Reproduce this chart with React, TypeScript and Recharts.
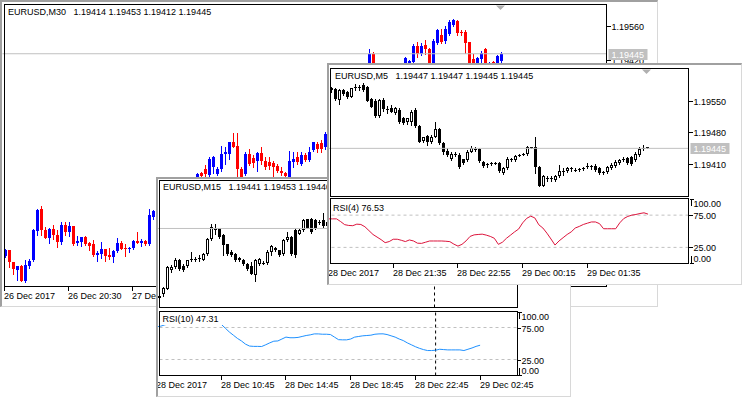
import React from 'react';
import { ComposedChart, Bar, Line, XAxis, YAxis, ReferenceLine, ReferenceDot } from 'recharts';

const FONT = "'Liberation Sans', Arial, sans-serif";
const BID = 1.19445;

// EURUSD M30, bars from 26 Dec 12:30 to 29 Dec 02:30
const m30Open = [
  1.18618, 1.18643, 1.18595, 1.18562, 1.18579, 1.18517, 1.18577, 1.18602, 1.1872, 1.1881,
  1.18727, 1.18693, 1.18731, 1.18707, 1.18677, 1.18745, 1.18717, 1.18741, 1.18673, 1.18677,
  1.18696, 1.18673, 1.1867, 1.18622, 1.18626, 1.18649, 1.18622, 1.18615, 1.18639, 1.18671,
  1.18652, 1.18649, 1.18652, 1.18681, 1.18673, 1.18681, 1.18667, 1.18779, 1.18803, 1.18795,
  1.1882, 1.1883, 1.1885, 1.18835, 1.18875, 1.1887, 1.18905, 1.189, 1.1893, 1.18958,
  1.18975, 1.18952, 1.18982, 1.18955, 1.18975, 1.19036, 1.19036, 1.19084, 1.1907, 1.18975,
  1.18955, 1.19036, 1.19019, 1.19009, 1.1904, 1.19009, 1.19002, 1.18999, 1.18985, 1.18968,
  1.18958, 1.18941, 1.19002, 1.19023, 1.18996, 1.1903, 1.19013, 1.19054, 1.19077, 1.1908,
  1.19064, 1.19118, 1.1915, 1.19175, 1.1919, 1.19215, 1.19317, 1.1931, 1.1934, 1.19345,
  1.1936, 1.19405, 1.19446, 1.1936, 1.19345, 1.1933, 1.1934, 1.1937, 1.1936, 1.1939,
  1.1938, 1.19395, 1.1941, 1.19475, 1.19446, 1.19479, 1.19466, 1.19405, 1.19487, 1.1952,
  1.19495, 1.19524, 1.19564, 1.19577, 1.19532, 1.19532, 1.19491, 1.19422, 1.19405, 1.19422,
  1.19466, 1.194, 1.19411, 1.19409, 1.19414,
];
const m30High = [
  1.18649, 1.18645, 1.18597, 1.1858, 1.18582, 1.18602, 1.18609, 1.18731, 1.1881, 1.18822,
  1.18738, 1.18735, 1.18745, 1.18724, 1.18758, 1.18758, 1.18758, 1.18742, 1.18701, 1.18697,
  1.18701, 1.18677, 1.18683, 1.18639, 1.18677, 1.1865, 1.18652, 1.18643, 1.18693, 1.18679,
  1.1867, 1.18656, 1.18686, 1.18717, 1.18688, 1.18683, 1.1881, 1.18806, 1.18825, 1.1883,
  1.18845, 1.1886, 1.1887, 1.1888, 1.189, 1.1891, 1.18925, 1.18935, 1.18958, 1.18962,
  1.18989, 1.19023, 1.19026, 1.18982, 1.1907, 1.19064, 1.19086, 1.19122, 1.19121, 1.18982,
  1.19043, 1.19057, 1.1903, 1.19043, 1.19064, 1.19023, 1.19023, 1.19009, 1.18996, 1.18982,
  1.18962, 1.1905, 1.19043, 1.19043, 1.19043, 1.1904, 1.19064, 1.19086, 1.19084, 1.19091,
  1.19125, 1.1916, 1.1919, 1.192, 1.19228, 1.1932, 1.19348, 1.19345, 1.19367, 1.19363,
  1.19409, 1.19466, 1.19452, 1.1938, 1.1935, 1.19345, 1.19375, 1.1939, 1.19395, 1.194,
  1.1943, 1.19418, 1.19483, 1.19491, 1.19487, 1.19503, 1.1947, 1.19507, 1.19548, 1.19548,
  1.1956, 1.19581, 1.19585, 1.19581, 1.1954, 1.1954, 1.19493, 1.19446, 1.1943, 1.19458,
  1.19468, 1.19411, 1.19414, 1.19438, 1.19453,
];
const m30Low = [
  1.18615, 1.18575, 1.18545, 1.1852, 1.18517, 1.18515, 1.18571, 1.186, 1.18707, 1.18707,
  1.18692, 1.18674, 1.1869, 1.18656, 1.1867, 1.18704, 1.18701, 1.18663, 1.18663, 1.1866,
  1.18666, 1.18645, 1.1862, 1.18599, 1.18611, 1.18599, 1.18609, 1.18595, 1.18636, 1.18647,
  1.18619, 1.18636, 1.18649, 1.18673, 1.1866, 1.18663, 1.18663, 1.18772, 1.18785, 1.1878,
  1.188, 1.18815, 1.1882, 1.1883, 1.1886, 1.18865, 1.1889, 1.18895, 1.1892, 1.18935,
  1.18941, 1.18945, 1.18958, 1.1895, 1.18968, 1.18996, 1.19016, 1.19064, 1.18948, 1.18938,
  1.1895, 1.18989, 1.18982, 1.18968, 1.18996, 1.18975, 1.18975, 1.18948, 1.18962, 1.1895,
  1.1893, 1.18935, 1.18982, 1.18996, 1.18989, 1.19009, 1.19009, 1.1905, 1.19043, 1.19043,
  1.19057, 1.191, 1.1913, 1.1915, 1.1918, 1.19205, 1.19303, 1.19305, 1.19336, 1.19337,
  1.19355, 1.194, 1.1935, 1.19338, 1.1932, 1.19295, 1.1933, 1.1935, 1.19355, 1.19355,
  1.1937, 1.1937, 1.194, 1.1943, 1.19438, 1.19446, 1.19395, 1.19398, 1.19485, 1.19487,
  1.1949, 1.1952, 1.1956, 1.1952, 1.1952, 1.1945, 1.194, 1.19403, 1.194, 1.19405,
  1.19395, 1.1938, 1.1938, 1.194, 1.19412,
];
const m30Close = [
  1.18643, 1.18595, 1.18565, 1.18579, 1.18517, 1.18584, 1.186, 1.18724, 1.18806, 1.18727,
  1.18693, 1.18731, 1.18707, 1.18677, 1.18745, 1.18717, 1.18742, 1.1867, 1.18681, 1.18696,
  1.18668, 1.1866, 1.18622, 1.18632, 1.18647, 1.18619, 1.18614, 1.1864, 1.18671, 1.18649,
  1.18649, 1.18653, 1.18681, 1.18673, 1.18681, 1.18667, 1.18785, 1.18803, 1.18795, 1.1882,
  1.1883, 1.1885, 1.18835, 1.18875, 1.1887, 1.18905, 1.189, 1.1893, 1.18955, 1.18947,
  1.18955, 1.19016, 1.19023, 1.18975, 1.19036, 1.19043, 1.19084, 1.19066, 1.18975, 1.18941,
  1.19036, 1.18996, 1.18999, 1.19039, 1.19006, 1.18982, 1.18986, 1.18982, 1.18968, 1.18959,
  1.18944, 1.19009, 1.19016, 1.19002, 1.1903, 1.19012, 1.19043, 1.19084, 1.19057, 1.19057,
  1.19118, 1.1915, 1.19175, 1.1919, 1.19215, 1.19317, 1.1931, 1.1934, 1.19345, 1.1936,
  1.19405, 1.19446, 1.1936, 1.19345, 1.1933, 1.1934, 1.1937, 1.1936, 1.1939, 1.19365,
  1.19426, 1.19415, 1.19475, 1.19446, 1.19475, 1.19466, 1.19405, 1.19495, 1.1954, 1.19491,
  1.19548, 1.19573, 1.19581, 1.19528, 1.19528, 1.19487, 1.19405, 1.19409, 1.19426, 1.1945,
  1.19405, 1.19409, 1.19398, 1.19434, 1.19445,
];
const m30TimeLabels = [
  '26 Dec 2017', '26 Dec 20:30', '27 Dec 04:30', '27 Dec 12:30',
  '27 Dec 20:30', '28 Dec 04:30', '28 Dec 12:30', '28 Dec 20:30',
];
// only the upper price labels are not covered by the other windows
const m30PriceTicks = [1.1942, 1.1956];

// EURUSD M15, bars from 28 Dec 06:45 to 29 Dec 02:45
const m15Open = [
  1.19215, 1.19229, 1.19245, 1.19306, 1.19317, 1.19341, 1.19322, 1.19322, 1.19339, 1.19343,
  1.19347, 1.19341, 1.19361, 1.19411, 1.19445, 1.19445, 1.19422, 1.19392, 1.19367, 1.19361,
  1.19339, 1.19341, 1.19328, 1.19322, 1.19292, 1.19328, 1.19331, 1.1933, 1.19367, 1.19381,
  1.19372, 1.19361, 1.19406, 1.19417, 1.19439, 1.19428, 1.19439, 1.19475, 1.19478, 1.19472,
  1.19466, 1.19472, 1.19452, 1.19466, 1.19425, 1.19405, 1.19455, 1.19495, 1.1952, 1.1954,
  1.19505, 1.19491, 1.1952, 1.19548, 1.19577, 1.19574, 1.19579, 1.19581, 1.19516, 1.19533,
  1.19511, 1.1953, 1.19472, 1.19488, 1.19422, 1.19421, 1.19443, 1.19409, 1.19412, 1.19421,
  1.19432, 1.19447, 1.19378, 1.19383, 1.19401, 1.194, 1.19406, 1.19392, 1.19412, 1.19425,
  1.19441,
];
const m15High = [
  1.19228, 1.1925, 1.1932, 1.19325, 1.19348, 1.19345, 1.19326, 1.19341, 1.19367, 1.1935,
  1.19356, 1.19363, 1.19414, 1.19461, 1.19461, 1.19448, 1.19425, 1.19395, 1.19372, 1.19364,
  1.1935, 1.19345, 1.19331, 1.19333, 1.19345, 1.19348, 1.19337, 1.19375, 1.19389, 1.19384,
  1.19375, 1.19411, 1.19433, 1.1942, 1.19445, 1.19443, 1.19475, 1.19478, 1.19481, 1.19475,
  1.19472, 1.19497, 1.1947, 1.1947, 1.1943, 1.1946, 1.19507, 1.1953, 1.19548, 1.19548,
  1.19515, 1.19525, 1.1956, 1.19585, 1.19581, 1.19579, 1.19588, 1.19583, 1.19555, 1.19541,
  1.1953, 1.19535, 1.19504, 1.19489, 1.19438, 1.1945, 1.19447, 1.19415, 1.19427, 1.19433,
  1.1945, 1.19469, 1.19386, 1.19408, 1.19403, 1.19412, 1.1941, 1.1942, 1.19427, 1.19447,
  1.19453,
];
const m15Low = [
  1.192, 1.19222, 1.19243, 1.193, 1.19315, 1.19308, 1.19303, 1.19318, 1.19336, 1.19338,
  1.19337, 1.19339, 1.19358, 1.19408, 1.19428, 1.19414, 1.19356, 1.19358, 1.19353, 1.19338,
  1.19336, 1.19323, 1.19308, 1.19293, 1.19272, 1.19325, 1.19326, 1.19328, 1.19356, 1.1937,
  1.19354, 1.19356, 1.19404, 1.19358, 1.1935, 1.19425, 1.19436, 1.19445, 1.1943, 1.19442,
  1.19461, 1.1945, 1.1944, 1.1942, 1.19395, 1.19398, 1.1945, 1.19485, 1.1951, 1.195,
  1.19487, 1.1949, 1.19515, 1.1954, 1.19542, 1.19555, 1.19572, 1.19515, 1.19515, 1.195,
  1.19497, 1.19458, 1.19453, 1.19429, 1.19402, 1.19411, 1.19403, 1.19405, 1.19389, 1.19417,
  1.19431, 1.19361, 1.19374, 1.19381, 1.19394, 1.19397, 1.19389, 1.1939, 1.1941, 1.19409,
  1.1944,
];
const m15Close = [
  1.19222, 1.19246, 1.19317, 1.19317, 1.19341, 1.19311, 1.19306, 1.19339, 1.19345, 1.19345,
  1.19348, 1.19361, 1.19411, 1.1945, 1.19439, 1.19417, 1.19389, 1.19361, 1.19356, 1.19341,
  1.19348, 1.19326, 1.19311, 1.19295, 1.19339, 1.19345, 1.1933, 1.19367, 1.19386, 1.19372,
  1.19356, 1.19406, 1.19417, 1.19361, 1.19356, 1.19441, 1.19472, 1.19448, 1.19433, 1.19445,
  1.19467, 1.19452, 1.19466, 1.19425, 1.19405, 1.19455, 1.19495, 1.1952, 1.1954, 1.19505,
  1.19491, 1.1952, 1.19548, 1.19578, 1.19574, 1.19577, 1.19574, 1.19516, 1.19532, 1.19503,
  1.19525, 1.19469, 1.19488, 1.19431, 1.19403, 1.19445, 1.19406, 1.19411, 1.19421, 1.19431,
  1.19447, 1.19383, 1.19383, 1.19402, 1.194, 1.19405, 1.19392, 1.19416, 1.19412, 1.19443,
  1.19445,
];
const m15Rsi = [
  76, 77, 79, 81, 84, 81, 80, 82, 83, 83,
  83, 84, 88, 90, 88, 84, 80, 74, 68, 63,
  58, 54, 49, 46, 45.5, 45.5, 45.3, 48, 51, 53.6,
  54, 57, 60, 59, 59, 59.5, 61, 62.5, 63.5, 65,
  65, 64.5, 64.5, 64, 60, 56, 55.7, 55.7, 57, 60,
  61, 62, 62.5, 63, 64.5, 65, 65.1, 64, 62, 60,
  57, 54.6, 51, 48, 45, 42.5, 40.5, 39, 39, 39.5,
  41, 40.5, 40, 40, 40, 40, 39, 41, 43, 45.5,
  47.31,
];
const m15TimeLabels = ['28 Dec 2017', '28 Dec 10:45', '28 Dec 14:45', '28 Dec 18:45', '28 Dec 22:45', '29 Dec 02:45'];
const m15PriceTicks = [1.1933, 1.1954];
const m15DaySeparator = 69; // 29 Dec 00:00

// EURUSD M5, bars from 28 Dec 20:15 to 29 Dec 02:50
const m5Open = [
  1.19577, 1.19575, 1.19552, 1.19574, 1.1957, 1.19559, 1.19579, 1.1958, 1.19584, 1.19581,
  1.19554, 1.1955, 1.19516, 1.19552, 1.19531, 1.19533, 1.19524, 1.1953, 1.19511, 1.19502,
  1.19502, 1.1953, 1.19495, 1.19462, 1.19472, 1.19458, 1.19471, 1.19488, 1.19456, 1.1944,
  1.19422, 1.19432, 1.19431, 1.19421, 1.1942, 1.19438, 1.19443, 1.19443, 1.19416, 1.19409,
  1.19411, 1.19412, 1.19412, 1.1939, 1.19401, 1.19421, 1.1942, 1.1943, 1.19432, 1.19432,
  1.19446, 1.19447, 1.19405, 1.19362, 1.19378, 1.1938, 1.19375, 1.19383, 1.19393, 1.19394,
  1.19401, 1.19398, 1.19398, 1.194, 1.19405, 1.19406, 1.19406, 1.19401, 1.19391, 1.19392,
  1.19401, 1.19406, 1.19412, 1.1942, 1.19423, 1.19425, 1.1942, 1.19431, 1.19445, 1.19447,
];
const m5High = [
  1.19581, 1.19577, 1.19575, 1.19575, 1.19572, 1.19579, 1.19587, 1.19585, 1.19588, 1.19583,
  1.19557, 1.19553, 1.19553, 1.19555, 1.19539, 1.19541, 1.19537, 1.19533, 1.19515, 1.19513,
  1.1953, 1.19535, 1.19497, 1.19471, 1.19475, 1.19474, 1.19504, 1.19489, 1.19458, 1.19445,
  1.19438, 1.19436, 1.19434, 1.19422, 1.19442, 1.1945, 1.19447, 1.19445, 1.19418, 1.19412,
  1.19415, 1.19415, 1.19414, 1.19403, 1.19427, 1.19423, 1.19431, 1.19433, 1.19435, 1.1945,
  1.19449, 1.19469, 1.19406, 1.19386, 1.19383, 1.19384, 1.19386, 1.19408, 1.19401, 1.19405,
  1.19403, 1.19401, 1.19402, 1.19405, 1.19412, 1.19409, 1.1941, 1.19403, 1.19394, 1.19406,
  1.19412, 1.1942, 1.19422, 1.19425, 1.19427, 1.19428, 1.19438, 1.19447, 1.19453, 1.19447,
];
const m5Low = [
  1.1957, 1.19552, 1.19542, 1.19563, 1.19555, 1.19558, 1.19574, 1.19574, 1.19572, 1.19549,
  1.19536, 1.19515, 1.19515, 1.19528, 1.19524, 1.19525, 1.19521, 1.195, 1.19498, 1.19499,
  1.19497, 1.19493, 1.19458, 1.1946, 1.19453, 1.19456, 1.19469, 1.19455, 1.19433, 1.19429,
  1.1942, 1.19429, 1.19402, 1.19411, 1.19417, 1.19436, 1.1944, 1.19414, 1.19403, 1.19405,
  1.19408, 1.1941, 1.19392, 1.19389, 1.194, 1.19417, 1.19418, 1.19428, 1.19431, 1.19431,
  1.19445, 1.1939, 1.19361, 1.19361, 1.19374, 1.19374, 1.19374, 1.19381, 1.19386, 1.19392,
  1.19396, 1.19394, 1.19396, 1.19397, 1.19401, 1.194, 1.19396, 1.19389, 1.19389, 1.1939,
  1.194, 1.19405, 1.19411, 1.19417, 1.1941, 1.19409, 1.19418, 1.19429, 1.19442, 1.19445,
];
const m5Close = [
  1.19574, 1.19553, 1.19574, 1.19564, 1.19558, 1.19577, 1.1958, 1.19579, 1.19574, 1.1955,
  1.19537, 1.19516, 1.19552, 1.19531, 1.19532, 1.19526, 1.19533, 1.19503, 1.195, 1.19511,
  1.19525, 1.19495, 1.1946, 1.19469, 1.19458, 1.19471, 1.19488, 1.19456, 1.19436, 1.19431,
  1.19433, 1.19433, 1.19403, 1.19412, 1.19436, 1.19445, 1.19444, 1.19417, 1.19406, 1.1941,
  1.19412, 1.19411, 1.19394, 1.19401, 1.19421, 1.19422, 1.19428, 1.19431, 1.19433, 1.19447,
  1.19447, 1.19405, 1.19362, 1.19383, 1.19379, 1.19379, 1.19383, 1.19395, 1.19394, 1.19402,
  1.194, 1.19397, 1.194, 1.19401, 1.19406, 1.19405, 1.19397, 1.1939, 1.19392, 1.19403,
  1.19408, 1.19416, 1.1942, 1.19421, 1.19412, 1.19411, 1.19432, 1.19443, 1.19446, 1.19445,
];
const m5Rsi = [
  69.2, 69.2, 69.2, 65, 60.2, 59, 58.6, 61, 60.5, 57,
  51, 45, 41, 37, 32.3, 34, 37.6, 37.6, 36, 34,
  36.5, 35, 31.5, 31.2, 33, 34.9, 34.9, 34.9, 34.9, 34.5,
  33.9, 30, 27, 29.7, 35, 42, 44.4, 45, 45.5, 44,
  42, 39.1, 29.7, 33, 39.1, 44, 49, 53.4, 63, 70,
  73.4, 70.7, 60, 55, 47, 38, 28.6, 35, 40, 45,
  49, 55, 57.5, 60.5, 62.5, 64.4, 64.4, 61.8, 53.9, 53.9,
  53.9, 53.9, 63, 69.7, 73, 75, 76, 77.5, 78.6, 76.53,
];
const m5TimeLabels = ['28 Dec 2017', '28 Dec 21:35', '28 Dec 22:55', '29 Dec 00:15', '29 Dec 01:35'];
const m5PriceTicks = [1.1941, 1.1948, 1.1955];

const rsiTicks = [0, 25, 75, 100];
const LABEL_STEP = 16;

type Row = { i: number; o?: number; h?: number; l?: number; c?: number; hl?: number[]; rsi?: number };

// one row per 4px slot, empty slots keep the free space on the right
const makeRows = (o: number[], h: number[], l: number[], c: number[], slots: number, rsi?: number[]): Row[] => {
  const rows: Row[] = [];
  for (let i = 0; i < slots; i++) {
    if (i < o.length) rows.push({ i, o: o[i], h: h[i], l: l[i], c: c[i], hl: [l[i], h[i]], rsi: rsi ? rsi[i] : undefined });
    else rows.push({ i });
  }
  return rows;
};

const m30Rows = makeRows(m30Open, m30High, m30Low, m30Close, 151);
const m15Rows = makeRows(m15Open, m15High, m15Low, m15Close, 90, m15Rsi);
const m5Rows = makeRows(m5Open, m5High, m5Low, m5Close, 90, m5Rsi);

const makeCandle = (mono: boolean) => (props: any) => {
  const { x, width, y, height, payload } = props;
  if (!payload || payload.h === undefined || x == null || y == null) return <g />;
  const top0 = Math.min(y, y + height);
  const span = Math.abs(height);
  const cx = Math.floor(x + width / 2) + 0.5;
  const range = payload.h - payload.l;
  const k = range > 0 ? span / range : 0;
  const yo = top0 + (payload.h - payload.o) * k;
  const yc = top0 + (payload.h - payload.c) * k;
  const bTop = Math.round(Math.min(yo, yc));
  const bBot = Math.round(Math.max(yo, yc));
  const wTop = Math.round(top0);
  const wBot = Math.round(top0 + span) + 1;
  const bh = bBot - bTop;

  if (!mono) {
    const col = payload.c >= payload.o ? '#0000ff' : '#ff0000';
    return (
      <g shapeRendering="crispEdges">
        <line x1={cx} x2={cx} y1={wTop} y2={wBot} stroke={col} />
        <rect x={cx - 1.5} y={bTop} width={3} height={Math.max(1, bh)} fill={col} />
      </g>
    );
  }
  if (bh < 1) {
    return (
      <g shapeRendering="crispEdges">
        <line x1={cx} x2={cx} y1={wTop} y2={wBot} stroke="#000" />
        <line x1={cx - 1.5} x2={cx + 1.5} y1={bTop + 0.5} y2={bTop + 0.5} stroke="#000" />
      </g>
    );
  }
  if (payload.c > payload.o && bh > 2) {
    return (
      <g shapeRendering="crispEdges">
        <line x1={cx} x2={cx} y1={wTop} y2={bTop} stroke="#000" />
        <line x1={cx} x2={cx} y1={bBot} y2={wBot} stroke="#000" />
        <rect x={cx - 1} y={bTop + 0.5} width={2} height={bh - 1} fill="#fff" stroke="#000" />
      </g>
    );
  }
  return (
    <g shapeRendering="crispEdges">
      <line x1={cx} x2={cx} y1={wTop} y2={wBot} stroke="#000" />
      <rect x={cx - 1.5} y={bTop} width={3} height={bh} fill="#000" />
    </g>
  );
};
const colorCandle = makeCandle(false);
const monoCandle = makeCandle(true);

const txt = { fontSize: 9, fontFamily: FONT, fill: '#000' };

const priceTick = (props: any) => {
  const { x, y, payload } = props;
  const v = payload.value as number;
  const ty = Math.round(y) + 0.5;
  if (v === BID) {
    return (
      <g>
        <rect x={x + 2} y={ty - 5.5} width={39} height={11} fill="#c0c0c0" />
        <text x={x + 5} y={ty} dominantBaseline="central" {...txt} fill="#fff">{v.toFixed(5)}</text>
      </g>
    );
  }
  return (
    <g>
      <line x1={x} x2={x + 4} y1={ty} y2={ty} stroke="#000" shapeRendering="crispEdges" />
      <text x={x + 5} y={ty} dominantBaseline="central" {...txt}>{v.toFixed(5)}</text>
    </g>
  );
};

const rsiTick = (props: any) => {
  const { x, y, payload } = props;
  const v = payload.value as number;
  const ty = Math.round(y) + 0.5;
  const ax = Math.round(x) + 0.5;
  if (v === 100) {
    return (
      <g>
        <path d={`M${ax} ${ty}h4M${ax + 2} ${ty}v6`} stroke="#000" fill="none" shapeRendering="crispEdges" />
        <text x={x + 5} y={ty + 4.5} dominantBaseline="central" {...txt}>{v.toFixed(2)}</text>
      </g>
    );
  }
  if (v === 0) {
    return (
      <g>
        <path d={`M${ax} ${ty - 1}h4M${ax + 2} ${ty - 1}v-8`} stroke="#000" fill="none" shapeRendering="crispEdges" />
        <text x={x + 5} y={ty - 6} dominantBaseline="central" {...txt}>{v.toFixed(2)}</text>
      </g>
    );
  }
  return (
    <g>
      <line x1={x} x2={x + 4} y1={ty} y2={ty} stroke="#000" shapeRendering="crispEdges" />
      <text x={x + 5} y={ty} dominantBaseline="central" {...txt}>{v.toFixed(2)}</text>
    </g>
  );
};

const timeTick = (labels: string[]) => (props: any) => {
  const { x, y, payload } = props;
  const idx = payload.value as number;
  if (idx % LABEL_STEP !== 0 || !labels[idx / LABEL_STEP]) return <g />;
  const tx = Math.floor(x) + 0.5;
  return (
    <g>
      <line x1={tx} x2={tx} y1={y} y2={y + 4} stroke="#000" shapeRendering="crispEdges" />
      <text x={tx - 0.5} y={y + 9} textAnchor="start" dominantBaseline="central" {...txt}>{labels[idx / LABEL_STEP]}</text>
    </g>
  );
};

const shiftMark = (props: any) => {
  const { cx, cy } = props;
  return <polygon points={`${cx - 4.5},${cy + 1} ${cx + 4.5},${cy + 1} ${cx},${cy + 5.5}`} fill="#b0b0b0" />;
};

const Win = ({ left, top, width, height, children }: any) => (
  <div
    style={{
      position: 'absolute', left, top, width, height, boxSizing: 'border-box', background: '#fff', overflow: 'hidden',
      borderLeft: '2px solid #a0a0a0', borderTop: '2px solid #a0a0a0', borderRight: '1px solid #d8d8d8', borderBottom: '1px solid #d8d8d8',
    }}
  >
    <div style={{ position: 'absolute', left: -left - 2, top: -top - 2, width: 750, height: 398 }}>{children}</div>
  </div>
);

const Frame = ({ x, y, w, h }: any) => (
  <div style={{ position: 'absolute', left: x, top: y, width: w, height: h, border: '1px solid #000', boxSizing: 'border-box', pointerEvents: 'none' }} />
);

const Caption = ({ x, y, text, bg, w }: any) => (
  <div
    style={{
      position: 'absolute', left: x, top: y - 6, height: 12, lineHeight: '12px', fontSize: 9, fontFamily: FONT,
      whiteSpace: 'pre', color: '#000', background: bg, width: w,
    }}
  >
    {text}
  </div>
);

const Pos = ({ x, y, children }: any) => <div style={{ position: 'absolute', left: x, top: y }}>{children}</div>;

const axisY = { orientation: 'right' as const, type: 'number' as const, allowDataOverflow: true, interval: 0 as const, tickLine: false, axisLine: false, tickSize: 0, tickMargin: 0, width: 52 };

export default function App() {
  return (
    <div style={{ position: 'fixed', left: 0, top: 0, width: 750, height: 398, background: '#fff', overflow: 'hidden' }}>
      {/* M30 window */}
      <Win left={0} top={0} width={658} height={307}>
        <Pos x={2} y={4}>
          <ComposedChart width={657} height={301} data={m30Rows} margin={{ top: 0.5, right: 0.5, bottom: 0.5, left: 0.5 }}>
            <XAxis dataKey="i" type="category" interval={0} tick={timeTick(m30TimeLabels)} tickLine={false} axisLine={false} tickSize={0} tickMargin={0} height={18} />
            <YAxis {...axisY} domain={[1.18495, 1.19646]} ticks={[...m30PriceTicks, BID]} tick={priceTick} />
            <ReferenceLine y={BID} stroke="#c0c0c0" />
            <Bar dataKey="hl" barSize={3} shape={colorCandle} isAnimationActive={false} />
            <ReferenceDot x={124} y={1.19646} r={0} shape={shiftMark} />
          </ComposedChart>
        </Pos>
        <Frame x={4} y={4} w={603} h={283} />
        <Caption x={8} y={12} text="EURUSD,M30   1.19414 1.19453 1.19412 1.19445" />
      </Win>

      {/* M15 window */}
      <Win left={156} top={177} width={415} height={220}>
        <Pos x={156} y={180}>
          <ComposedChart width={413} height={128} data={m15Rows} margin={{ top: 0.5, right: 0.5, bottom: 0.5, left: 0.5 }}>
            <XAxis dataKey="i" type="category" hide />
            <YAxis {...axisY} domain={[1.19183, 1.19604]} ticks={[...m15PriceTicks, BID]} tick={priceTick} />
            <ReferenceLine y={BID} stroke="#c0c0c0" />
            <ReferenceLine x={m15DaySeparator} stroke="#000" strokeDasharray="3 3" />
            <Bar dataKey="hl" barSize={3} shape={monoCandle} isAnimationActive={false} />
          </ComposedChart>
        </Pos>
        <Pos x={156} y={311}>
          <ComposedChart width={413} height={85} data={m15Rows} margin={{ top: 0.5, right: 0.5, bottom: 0.5, left: 0.5 }}>
            <XAxis dataKey="i" type="category" interval={0} tick={timeTick(m15TimeLabels)} tickLine={false} axisLine={false} tickSize={0} tickMargin={0} height={20} />
            <YAxis {...axisY} domain={[0, 100]} ticks={rsiTicks} tick={rsiTick} />
            <ReferenceLine y={75} stroke="#c0c0c0" strokeDasharray="3 3" />
            <ReferenceLine y={25} stroke="#c0c0c0" strokeDasharray="3 3" />
            <ReferenceLine x={m15DaySeparator} stroke="#000" strokeDasharray="3 3" />
            <Line dataKey="rsi" type="linear" stroke="#1e90ff" strokeWidth={1} dot={false} isAnimationActive={false} />
          </ComposedChart>
        </Pos>
        <Frame x={159} y={180} w={359} h={128} />
        <Frame x={159} y={311} w={359} h={65} />
        <Caption x={163} y={187} text="EURUSD,M15   1.19441 1.19453 1.19440 1.19445" />
        <Caption x={160} y={319} w={63} bg="#fff" text=" RSI(10) 47.31" />
      </Win>

      {/* M5 window */}
      <Win left={327} top={63} width={415} height={222}>
        <Pos x={328} y={68}>
          <ComposedChart width={413} height={129} data={m5Rows} margin={{ top: 0.5, right: 0.5, bottom: 1, left: 0.5 }}>
            <XAxis dataKey="i" type="category" hide />
            <YAxis {...axisY} domain={[1.1934, 1.19621]} ticks={[...m5PriceTicks, BID]} tick={priceTick} />
            <ReferenceLine y={BID} stroke="#c0c0c0" />
            <Bar dataKey="hl" barSize={3} shape={monoCandle} isAnimationActive={false} />
            <ReferenceDot x={79} y={1.19621} r={0} shape={shiftMark} />
          </ComposedChart>
        </Pos>
        <Pos x={328} y={198}>
          <ComposedChart width={413} height={84} data={m5Rows} margin={{ top: 1, right: 0.5, bottom: 0.5, left: 0.5 }}>
            <XAxis dataKey="i" type="category" interval={0} tick={timeTick(m5TimeLabels)} tickLine={false} axisLine={false} tickSize={0} tickMargin={0} height={18} />
            <YAxis {...axisY} domain={[0, 100]} ticks={rsiTicks} tick={rsiTick} />
            <ReferenceLine y={75} stroke="#c0c0c0" strokeDasharray="3 3" />
            <ReferenceLine y={25} stroke="#c0c0c0" strokeDasharray="3 3" />
            <Line dataKey="rsi" type="linear" stroke="#dc143c" strokeWidth={1} dot={false} isAnimationActive={false} />
          </ComposedChart>
        </Pos>
        <Frame x={330} y={68} w={359} h={129} />
        <Frame x={330} y={198} w={359} h={66} />
        <Caption x={335} y={75.5} text="EURUSD,M5   1.19447 1.19447 1.19445 1.19445" />
        <Caption x={333} y={208} text="RSI(4) 76.53" />
      </Win>
    </div>
  );
}
